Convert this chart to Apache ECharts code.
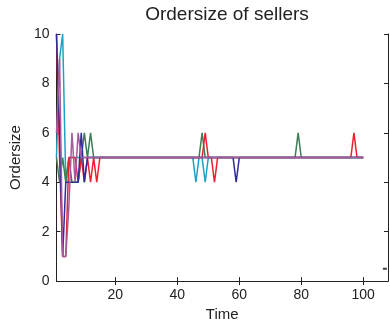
<!DOCTYPE html>
<html><head><meta charset="utf-8">
<script src="https://cdn.jsdelivr.net/npm/echarts@6/dist/echarts.min.js"></script>
<style>html,body{margin:0;padding:0;background:#fff}#c{width:390px;height:327px}</style>
</head><body><div id="c"></div>
<script>
// Order size per time step for each seller (t = 1..100)
const cyanSeller = [
  5,9,10,4,5,5,5,5,5,5,5,5,5,5,5,5,5,5,5,5,
  5,5,5,5,5,5,5,5,5,5,5,5,5,5,5,5,5,5,5,5,
  5,5,5,5,5,4,5,5,4,5,5,5,5,5,5,5,5,5,5,5,
  5,5,5,5,5,5,5,5,5,5,5,5,5,5,5,5,5,5,5,5,
  5,5,5,5,5,5,5,5,5,5,5,5,5,5,5,5,5,5,5,5
];
const greenSeller = [
  5,4,5,4,5,4,4,4,5,6,5,6,5,5,5,5,5,5,5,5,
  5,5,5,5,5,5,5,5,5,5,5,5,5,5,5,5,5,5,5,5,
  5,5,5,5,5,5,5,6,5,5,5,5,5,5,5,5,5,5,5,5,
  5,5,5,5,5,5,5,5,5,5,5,5,5,5,5,5,5,5,6,5,
  5,5,5,5,5,5,5,5,5,5,5,5,5,5,5,5,5,5,5,5
];
const redSeller = [
  10,5,1,1,5,5,5,4,5,4,5,4,5,4,5,5,5,5,5,5,
  5,5,5,5,5,5,5,5,5,5,5,5,5,5,5,5,5,5,5,5,
  5,5,5,5,5,5,5,5,6,5,5,4,5,5,5,5,5,5,5,5,
  5,5,5,5,5,5,5,5,5,5,5,5,5,5,5,5,5,5,5,5,
  5,5,5,5,5,5,5,5,5,5,5,5,5,5,5,5,6,5,5,5
];
const blueSeller = [
  10,6,1,4,4,4,4,4,6,4,5,5,5,5,5,5,5,5,5,5,
  5,5,5,5,5,5,5,5,5,5,5,5,5,5,5,5,5,5,5,5,
  5,5,5,5,5,5,5,5,5,5,5,5,5,5,5,5,5,5,4,5,
  5,5,5,5,5,5,5,5,5,5,5,5,5,5,5,5,5,5,5,5,
  5,5,5,5,5,5,5,5,5,5,5,5,5,5,5,5,5,5,5,5
];
const magentaSeller = [
  6,9,1,1,3,6,4,6,5,5,5,5,5,5,5,5,5,5,5,5,
  5,5,5,5,5,5,5,5,5,5,5,5,5,5,5,5,5,5,5,5,
  5,5,5,5,5,5,5,5,5,5,5,5,5,5,5,5,5,5,5,5,
  5,5,5,5,5,5,5,5,5,5,5,5,5,5,5,5,5,5,5,5,
  5,5,5,5,5,5,5,5,5,5,5,5,5,5,5,5,5,5,5,5
];
const xTicks = [20, 40, 60, 80, 100];
const yTicks = [0, 2, 4, 6, 8, 10];
const strayMarks = [[107, 0.5]];

const sellers = [
  { name: 'seller 1', values: cyanSeller, color: '#1ba2c8' },
  { name: 'seller 2', values: greenSeller, color: '#3e7d58' },
  { name: 'seller 3', values: redSeller, color: '#ee1f2e' },
  { name: 'seller 4', values: blueSeller, color: '#2c2c98' },
  { name: 'seller 5', values: magentaSeller, color: '#a45a9c' }
];

const FONT = '"Liberation Sans", Arial, Helvetica, sans-serif';
const chart = echarts.init(document.getElementById('c'), null, { renderer: 'canvas' });

const tickStyle = { show: true, inside: true, length: 4, lineStyle: { color: '#222', width: 1 } };
const lineStyle = { show: true, lineStyle: { color: '#222', width: 1 } };

chart.setOption({
  animation: false,
  backgroundColor: '#fff',
  title: {
    text: 'Ordersize of sellers',
    left: 222, top: 0, textAlign: 'center',
    textStyle: { fontFamily: FONT, fontSize: 19, fontWeight: 'normal', color: '#222' }
  },
  grid: { left: 56, right: 2, top: 34, bottom: 42 },
  xAxis: [{
    type: 'value', min: 1, max: 108,
    name: 'Time', nameLocation: 'middle', nameGap: 21,
    nameTextStyle: { fontFamily: FONT, fontSize: 15, color: '#222' },
    axisLine: lineStyle,
    axisTick: Object.assign({}, tickStyle, { customValues: xTicks }),
    axisLabel: { customValues: xTicks, margin: 7, fontFamily: FONT, fontSize: 14, color: '#222' },
    splitLine: { show: false }
  }, {
    type: 'value', min: 1, max: 108, position: 'top',
    axisLine: lineStyle,
    axisTick: Object.assign({}, tickStyle, { customValues: xTicks }),
    axisLabel: { show: false },
    splitLine: { show: false }
  }],
  yAxis: [{
    type: 'value', min: 0, max: 10, interval: 2,
    name: 'Ordersize', nameLocation: 'middle', nameGap: 28,
    nameTextStyle: { fontFamily: FONT, fontSize: 15, color: '#222' },
    axisLine: lineStyle,
    axisTick: tickStyle,
    axisLabel: { margin: 7, fontFamily: FONT, fontSize: 14, color: '#222',
      formatter: v => (yTicks.indexOf(v) >= 0 ? String(v) : '') },
    splitLine: { show: false }
  }, {
    type: 'value', min: 0, max: 10, interval: 2, position: 'right',
    axisLine: lineStyle,
    axisTick: tickStyle,
    axisLabel: { show: false },
    splitLine: { show: false }
  }],
  series: sellers.map(s => ({
    type: 'line', name: s.name,
    data: s.values.map((v, i) => [i + 1, v]),
    showSymbol: false, symbol: 'none',
    lineStyle: { color: s.color, width: 1.5 },
    itemStyle: { color: s.color },
    z: 2
  })).concat([{
    type: 'scatter', name: 'mark', data: strayMarks,
    symbol: 'rect', symbolSize: [4, 2], itemStyle: { color: '#111' }, z: 3
  }])
});
</script>
</body></html>
